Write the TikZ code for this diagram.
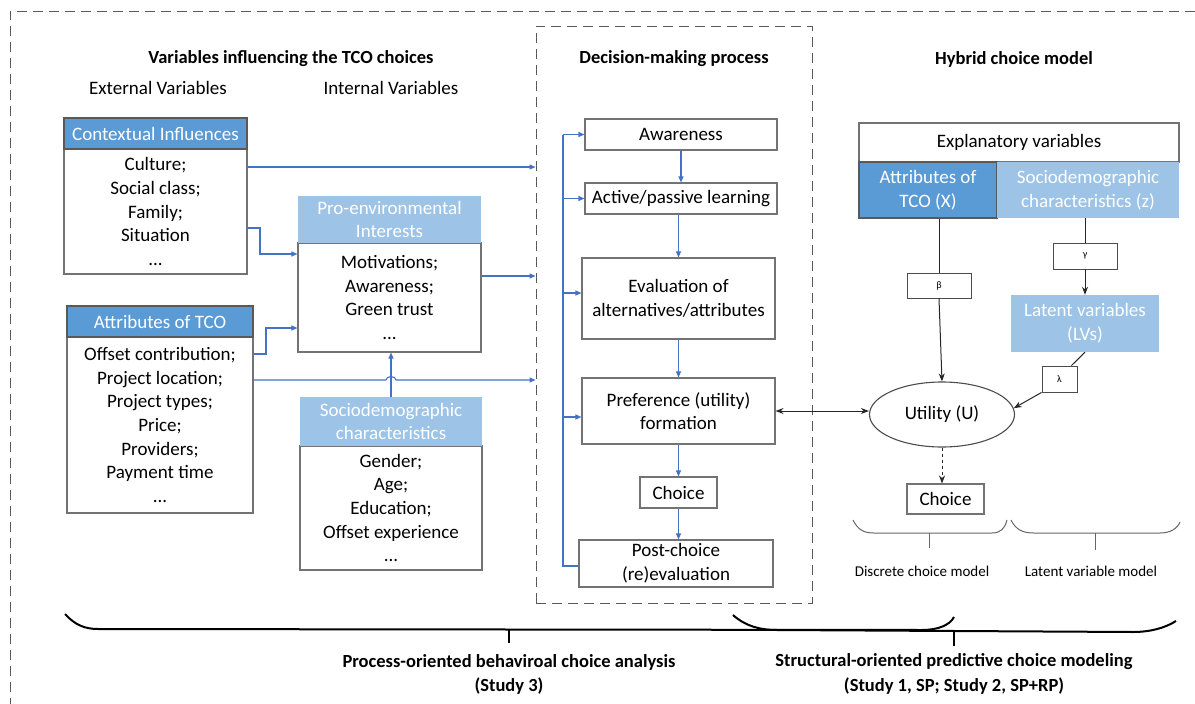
\documentclass[tikz,border=0pt]{standalone}
\usepackage{fontspec}
\setmainfont{Carlito}
\usetikzlibrary{arrows.meta,shapes.geometric}
\definecolor{hdark}{HTML}{5B9BD5}
\definecolor{hlight}{HTML}{9DC3E6}
\definecolor{flow}{HTML}{4472C4}
\newcommand\bodyfont{\fontsize{19}{23.7}\selectfont}
\newcommand\titlefont{\fontsize{18.5}{23}\selectfont\bfseries}
\newcommand\notefont{\fontsize{15}{18}\selectfont}
\newcommand\coeffont{\fontsize{10}{12}\selectfont}
\begin{document}
\begin{tikzpicture}[x=1pt,y=-1pt,
  every node/.style={font=\bodyfont, inner sep=0pt, align=center},
  panel/.style={draw=black!55, line width=1.1pt, fill=white},
  hdr/.style={fill=hdark, draw=black!65, line width=1.1pt, text=white},
  hdrlight/.style={fill=hlight, text=white},
  coef/.style={draw=black!70, line width=0.9pt, fill=white, font=\coeffont},
  flowline/.style={draw=flow, line width=1.1pt},
  flowarrow/.style={flowline, -{Triangle[length=6pt,width=5pt]}},
  blackarrow/.style={draw=black!85, line width=1pt, -{Stealth[length=8pt,width=6pt]}},
  blackline/.style={draw=black!85, line width=1pt},
  dashframe/.style={draw=black!65, line width=1pt, dash pattern=on 10pt off 6pt},
  bigbrace/.style={draw=black, line width=2pt},
  smallbrace/.style={draw=black!60, line width=1pt},
  titletext/.style={font=\titlefont},
  notetext/.style={font=\notefont}]
\useasboundingbox (0,0) rectangle (1195,704);

% outer frame (open to the right and bottom)
\draw[dashframe] (1195,11) -- (10,11) -- (10,704);

% ---------- section titles ----------
\node[titletext] (t1) at (291,59) {Variables influencing the TCO choices};
\node (ext) at (158,88) {External Variables};
\node (int) at (391,88) {Internal Variables};
\node[titletext] (t2) at (674,59) {Decision-making process};
\node[titletext] (t3) at (1014,59) {Hybrid choice model};

% ---------- variables ----------
\node[panel, minimum width=183, minimum height=125] (ctxb) at (155.5,211.5)
  {Culture;\\Social class;\\Family;\\Situation\\...};
\node[hdr, minimum width=183, minimum height=31] (ctxh) at (155.5,133.5) {Contextual Influences};

\node[panel, minimum width=186, minimum height=176] (atb) at (160,425)
  {Offset contribution;\\Project location;\\Project types;\\Price;\\Providers;\\Payment time\\...};
\node[hdr, minimum width=186, minimum height=31] (ath) at (160,321.5) {Attributes of TCO};

\node[panel, minimum width=183, minimum height=109] (peb) at (389.5,297.5)
  {Motivations;\\Awareness;\\Green trust\\...};
\node[hdrlight, minimum width=183, minimum height=47] (peh) at (389.5,219.5) {Pro-environmental\\Interests};

\node[panel, minimum width=182, minimum height=124] (sob) at (391,508)
  {Gender;\\Age;\\Education;\\Offset experience\\...};
\node[hdrlight, minimum width=182, minimum height=49] (soh) at (391,421.5) {Sociodemographic\\characteristics};

% ---------- decision-making process ----------
\node[dashframe, minimum width=276, minimum height=577] (dm) at (674,314.5) {};

\node[panel, minimum width=192, minimum height=31] (aw) at (681,134.5) {Awareness};
\node[panel, minimum width=192, minimum height=31] (al) at (681,198.5) {Active/passive learning};
\node[panel, minimum width=193, minimum height=81] (ev) at (678.5,298.5) {Evaluation of\\alternatives/attributes};
\node[panel, minimum width=193, minimum height=66] (pf) at (678.5,411) {Preference (utility)\\formation};
\node[panel, minimum width=77, minimum height=31] (ch) at (678.5,492.5) {Choice};
\node[panel, minimum width=194, minimum height=47] (pc) at (676,563.5) {Post-choice\\(re)evaluation};

\draw[flowarrow] (aw.south) -- (aw.south |- al.north);
\draw[flowarrow] (al.south -| ev.north) -- (ev.north);
\draw[flowarrow] (ev.south) -- (pf.north);
\draw[flowarrow] (pf.south) -- (ch.north);
\draw[flowarrow] (ch.south) -- (ch.south |- pc.north);

% feedback rail
\coordinate (rail) at (563,134.5);
\draw[flowline] (pc.west |- 0,566) -- (rail |- 0,566) -- (rail);
\draw[flowarrow] (rail) -- (aw.west);
\draw[flowarrow] (rail |- al.west) -- (al.west);
\draw[flowarrow] (rail |- 0,293) -- (ev.west |- 0,293);
\draw[flowarrow] (rail |- 0,417) -- (pf.west |- 0,417);

% ---------- variables into the process ----------
\draw[flowarrow] (ctxb.east |- 0,167) -- (dm.west |- 0,167);
\draw[flowarrow] (peb.east |- 0,276) -- (dm.west |- 0,276);
\draw[flowarrow] (ctxb.east |- 0,228) -- (260,228) -- (260,254) -- (peb.west |- 0,254);
\draw[flowarrow] (atb.east |- 0,354) -- (266,354) -- (266,328) -- (peb.west |- 0,328);
\draw[flowarrow] (soh.north) -- (soh.north |- peb.south);
\draw[flowarrow] (atb.east |- 0,380) -- (386,380) .. controls (386,375.5) and (396,375.5) .. (396,380) -- (dm.west |- 0,380);

% ---------- hybrid choice model ----------
\node[panel, minimum width=320, minimum height=39] (ex) at (1019,142.5) {Explanatory variables};
\node[hdr, minimum width=138, minimum height=56] (ax) at (928,190) {Attributes of\\TCO (X)};
\node[hdrlight, minimum width=182, minimum height=56] (sz) at (1088,190) {Sociodemographic\\characteristics (z)};

\node[coef, minimum width=64, minimum height=25] (beta) at (939,285.5) {β};
\node[coef, minimum width=64, minimum height=26] (gamma) at (1085,256) {γ};
\node[hdrlight, minimum width=148, minimum height=57] (lv) at (1085,323.5) {Latent variables\\(LVs)};
\node[coef, minimum width=35, minimum height=26] (lambda) at (1059.5,379) {λ};
\node[ellipse, draw=black!70, line width=1.1pt, fill=white, minimum width=145, minimum height=65] (util) at (942,414.5) {Utility (U)};
\node[panel, minimum width=77, minimum height=30] (ch2) at (945.5,499) {Choice};

\draw[blackline] (ax.south -| beta.north) -- (beta.north);
\draw[blackarrow] (beta.south) -- (util.north);
\draw[blackline] (sz.south -| gamma.north) -- (gamma.north);
\draw[blackarrow] (gamma.south) -- (lv.north);
\draw[blackline] (lv.south) -- ([xshift=-6pt]lambda.north east);
\draw[blackarrow] (lambda.south west) -- (util.5);
\draw[draw=black!85, line width=1pt, {Stealth[length=8pt,width=6pt]}-{Stealth[length=8pt,width=6pt]}] (pf.east) -- (pf.east -| util.west);
\draw[blackarrow, dashed] (util.south) -- (util.south |- ch2.north);

% ---------- model braces ----------
\draw[smallbrace] (853,520) .. controls (858,530) and (864,533) .. (874,533) -- (992,533) .. controls (1001,533) and (1005,528) .. (1007,520);
\coordinate (dcm) at (929,533);
\draw[smallbrace] (dcm) -- (929,548);
\draw[smallbrace] (1011,520) .. controls (1016,530) and (1023,533) .. (1034,533) -- (1160,533) .. controls (1170,533) and (1177,529) .. (1180,522);
\coordinate (lvm) at (1095,533);
\draw[smallbrace] (lvm) -- (1095,550);
\node[notetext] (dcml) at (922,571) {Discrete choice model};
\node[notetext] (lvml) at (1091,571) {Latent variable model};

% ---------- study braces ----------
\draw[bigbrace] (65,614) .. controls (75,625) and (85,629) .. (98,629) -- (922,630) .. controls (938,630) and (950,625) .. (954,617);
\draw[bigbrace] (509,629) -- (509,643);
\draw[bigbrace] (733,615) .. controls (745,626) and (760,630) .. (777,630) -- (1133,632) .. controls (1150,632) and (1165,628) .. (1176,621);
\draw[bigbrace] (954,631) -- (954,646);
\node[titletext] (pa) at (509,662) {Process-oriented behaviroal choice analysis};
\node[titletext] (pa2) at (509,686) {(Study 3)};
\node[titletext] (sm) at (954,662) {Structural-oriented predictive choice modeling};
\node[titletext] (sm2) at (954,686) {(Study 1, SP; Study 2, SP+RP)};
\end{tikzpicture}
\end{document}
